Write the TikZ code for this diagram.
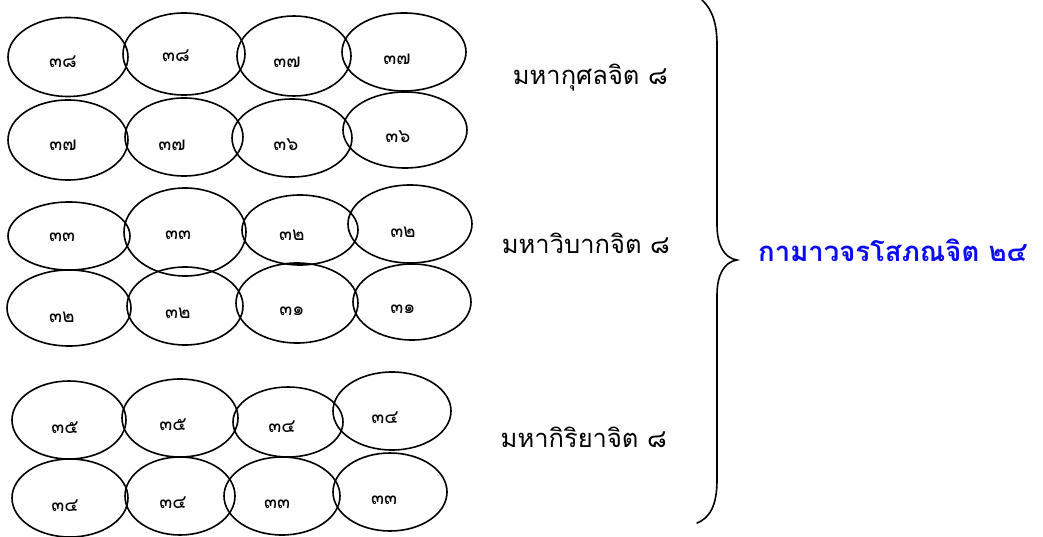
\documentclass[tikz,border=0pt]{standalone}
\usepackage{fontspec}
\newfontfamily\thaifont[Script=Thai]{Loma}
\usetikzlibrary{shapes.geometric}
\definecolor{titleblue}{RGB}{10,10,245}
\tikzset{
  cell/.style={draw=black, line width=1.6pt, ellipse, inner sep=0pt},
  num/.style={font=\thaifont\fontsize{19}{22}\selectfont, inner sep=0pt},
  grp/.style={font=\thaifont\fontsize{25.5}{28}\selectfont, inner sep=0pt, anchor=east},
  ttl/.style={font=\thaifont\bfseries\fontsize{27.5}{30}\selectfont, text=titleblue, inner sep=0pt, anchor=west},
}
\begin{document}
\begin{tikzpicture}[x=1pt,y=-1pt]
\useasboundingbox (0,0) rectangle (1043,537);
% row 1
\node[cell, minimum width=120pt, minimum height=79pt] (e1) at (68,57) {};
\node[cell, minimum width=122pt, minimum height=82pt] (e2) at (184,54) {};
\node[cell, minimum width=114pt, minimum height=80pt] (e3) at (294,56) {};
\node[cell, minimum width=124pt, minimum height=78pt] (e4) at (404,52) {};
% row 2
\node[cell, minimum width=120pt, minimum height=80pt] (e5) at (68,140) {};
\node[cell, minimum width=118pt, minimum height=78pt] (e6) at (184,137) {};
\node[cell, minimum width=120pt, minimum height=78pt] (e7) at (292,138) {};
\node[cell, minimum width=124pt, minimum height=76pt] (e8) at (405,130) {};
% row 3
\node[cell, minimum width=122pt, minimum height=68pt] (e9) at (69,236) {};
\node[cell, minimum width=122pt, minimum height=88pt] (e10) at (185,232) {};
\node[cell, minimum width=116pt, minimum height=70pt] (e11) at (300,230) {};
\node[cell, minimum width=124pt, minimum height=78pt] (e12) at (410,224) {};
% row 4
\node[cell, minimum width=124pt, minimum height=76pt] (e13) at (69,308) {};
\node[cell, minimum width=116pt, minimum height=78pt] (e14) at (185,306) {};
\node[cell, minimum width=122pt, minimum height=80pt] (e15) at (297,303) {};
\node[cell, minimum width=118pt, minimum height=76pt] (e16) at (412,302) {};
% row 5
\node[cell, minimum width=114pt, minimum height=78pt] (e17) at (69,420) {};
\node[cell, minimum width=116pt, minimum height=78pt] (e18) at (180,418) {};
\node[cell, minimum width=110pt, minimum height=70pt] (e19) at (288,422) {};
\node[cell, minimum width=118pt, minimum height=78pt] (e20) at (392,411) {};
% row 6
\node[cell, minimum width=116pt, minimum height=78pt] (e21) at (70,498) {};
\node[cell, minimum width=110pt, minimum height=78pt] (e22) at (180,496) {};
\node[cell, minimum width=116pt, minimum height=78pt] (e23) at (282,496) {};
\node[cell, minimum width=114pt, minimum height=78pt] (e24) at (390,492) {};
% labels
\node[num] (n1) at (63,62) {๓๘};
\node[num] (n2) at (176,56) {๓๘};
\node[num] (n3) at (287,62) {๓๗};
\node[num] (n4) at (397,59) {๓๗};
\node[num] (n5) at (63,145) {๓๗};
\node[num] (n6) at (172,145) {๓๗};
\node[num] (n7) at (286,145) {๓๖};
\node[num] (n8) at (398,137) {๓๖};
\node[num] (n9) at (62,237) {๓๓};
\node[num] (n10) at (178,235) {๓๓};
\node[num] (n11) at (292,235) {๓๒};
\node[num] (n12) at (403,232) {๓๒};
\node[num] (n13) at (62,317) {๓๒};
\node[num] (n14) at (178,313) {๓๒};
\node[num] (n15) at (292,311) {๓๑};
\node[num] (n16) at (403,309) {๓๑};
\node[num] (n17) at (65,428) {๓๕};
\node[num] (n18) at (173,425) {๓๕};
\node[num] (n19) at (282,427) {๓๔};
\node[num] (n20) at (385,418) {๓๔};
\node[num] (n21) at (65,506) {๓๔};
\node[num] (n22) at (173,503) {๓๔};
\node[num] (n23) at (277,504) {๓๓};
\node[num] (n24) at (384,500) {๓๓};
% group labels
\node[grp] (g1) at (668,78) {มหากุศลจิต ๘};
\node[grp] (g2) at (670,243) {มหาวิบากจิต ๘};
\node[grp] (g3) at (667,437) {มหากิริยาจิต ๘};
% brace
\coordinate (btop) at (702,0);
\coordinate (btip) at (737,260);
\coordinate (bbot) at (697,523);
\draw[line width=1.6pt, line cap=round] (btop) .. controls (713,10) and (717,25) .. (717,45) -- (717,225) .. controls (717,245) and (724,258) .. (btip) .. controls (724,262) and (717,275) .. (717,295) -- (717,480) .. controls (717,505) and (710,518) .. (bbot);
% title
\node[ttl] (t) at (758,250) {กามาวจรโสภณจิต ๒๔};
\end{tikzpicture}
\end{document}
